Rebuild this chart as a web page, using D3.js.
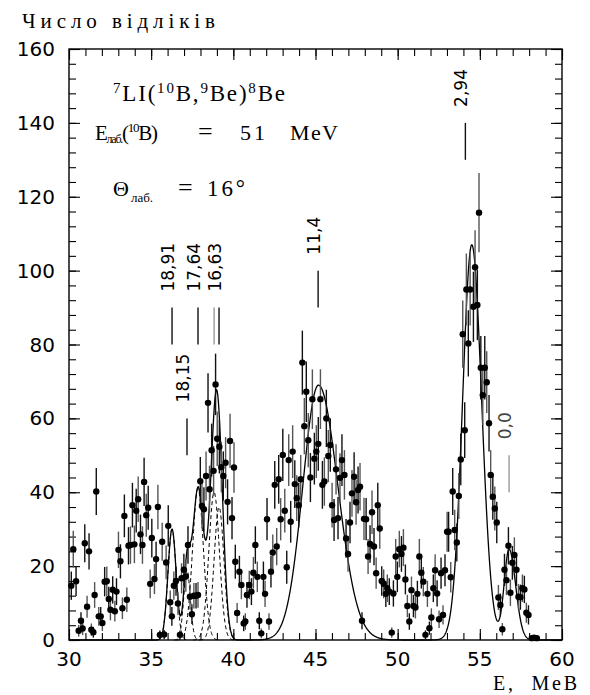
<!DOCTYPE html>
<html><head><meta charset="utf-8">
<script src="https://cdn.jsdelivr.net/npm/d3@7/dist/d3.min.js"></script>
<style>body{margin:0;background:#fff}svg{display:block}</style>
</head><body>
<svg id="chart" width="590" height="695"></svg>
<script>
// ---------- data ----------
const energy = [30.14,30.26,30.43,30.59,30.73,30.83,30.96,31.10,31.22,31.36,31.48,31.56,31.66,31.81,31.93,32.03,32.17,32.30,32.42,32.52,32.66,32.79,32.89,33.01,33.13,33.25,33.37,33.52,33.62,33.74,33.86,33.98,34.09,34.21,34.35,34.47,34.57,34.70,34.82,34.94,35.04,35.20,35.30,35.41,35.53,35.67,35.79,35.91,36.04,36.16,36.26,36.38,36.51,36.63,36.75,36.85,36.99,37.11,37.24,37.36,37.48,37.60,37.73,37.85,37.99,38.09,38.21,38.34,38.46,38.55,38.68,38.80,38.92,39.02,39.15,39.27,39.39,39.53,39.65,39.80,39.92,40.04,40.12,40.23,40.37,40.49,40.63,40.73,40.83,40.97,41.10,41.22,41.34,41.46,41.58,41.70,41.83,41.93,42.05,42.17,42.29,42.40,42.52,42.64,42.76,42.88,43.01,43.13,43.25,43.37,43.49,43.61,43.74,43.86,43.98,44.10,44.20,44.32,44.44,44.56,44.69,44.81,44.93,45.05,45.17,45.30,45.42,45.54,45.66,45.78,45.90,46.01,46.13,46.25,46.37,46.49,46.61,46.76,46.86,46.98,47.10,47.22,47.35,47.47,47.59,47.71,47.83,47.95,48.08,48.20,48.32,48.44,48.56,48.69,48.79,48.91,49.03,49.15,49.28,49.37,49.49,49.64,49.74,49.88,49.98,50.10,50.23,50.35,50.47,50.59,50.71,50.84,50.96,51.08,51.20,51.32,51.44,51.56,51.69,51.81,51.93,52.05,52.17,52.28,52.40,52.52,52.64,52.76,52.88,53.01,53.10,53.23,53.35,53.47,53.60,53.72,53.84,53.96,54.08,54.18,54.30,54.41,54.61,54.71,54.85,54.95,55.06,55.18,55.30,55.42,55.56,55.66,55.79,55.91,56.03,56.13,56.25,56.37,56.50,56.62,56.74,56.86,56.98,57.10,57.23,57.35,57.47,57.59,57.71,57.83,57.96,58.16,58.30,58.47];
const counts = [14.7,24.6,15.9,2.5,5.2,3.1,26.2,9.0,24.0,2.8,2.1,12.2,40.2,6.4,6.4,4.6,15.8,15.9,11.1,8.2,13.6,7.8,13.1,24.4,21.3,8.6,33.6,10.9,25.5,25.7,36.5,25.9,35.0,38.1,28.6,25.7,42.8,33.8,35.8,15.2,27.6,16.5,21.9,36.0,1.4,26.6,1.5,21.0,30.9,10.2,6.4,14.7,16.0,9.9,1.4,16.7,19.0,17.2,25.7,11.7,7.0,12.0,12.0,12.2,43.0,36.3,35.4,44.4,64.2,40.8,51.4,45.8,69.2,54.5,52.3,46.8,44.4,48.0,37.4,53.9,33.0,46.7,21.2,7.3,18.5,14.9,4.5,5.0,12.2,14.9,13.1,18.2,25.7,17.1,5.2,1.8,17.1,12.5,32.7,5.0,18.5,23.7,42.0,25.3,43.5,32.7,50.1,35.0,19.7,48.7,32.0,51.0,42.2,38.4,36.5,43.5,75.1,57.9,67.2,54.1,44.0,65.2,49.1,51.0,53.1,65.2,42.0,42.9,60.0,49.8,52.8,36.5,32.5,46.2,33.0,43.9,48.7,44.7,27.5,23.3,31.8,39.7,44.2,37.3,40.6,41.5,5.2,32.8,32.7,22.6,26.0,34.6,25.3,18.1,36.5,30.2,16.0,15.2,12.5,14.0,13.1,2.0,12.6,22.6,17.1,24.6,23.3,25.0,16.4,9.2,5.0,13.5,9.2,8.8,12.5,22.6,18.2,15.8,1.4,12.5,3.2,6.1,14.0,18.9,12.6,5.6,18.1,6.8,18.9,29.3,29.3,17.0,40.2,29.8,26.4,39.0,48.9,82.8,56.8,94.9,80.3,94.9,90.2,100.9,90.7,115.7,73.7,66.3,73.7,69.8,58.7,44.7,38.8,35.6,31.8,11.5,9.5,2.9,19.0,16.2,25.5,12.8,20.9,23.0,19.0,11.7,11.6,14.0,13.7,7.4,6.8,0.5,0.6,0.5];

// fitted peaks (solid = sum, dashed = single components)
const peakCenter = [36.27, 37.18, 37.85, 38.83, 39.13, 45.18, 54.51, 56.78];
const peakHeight = [30, 19, 41, 40, 36, 69, 107, 24.5];
const peakSigmaL = [0.25, 0.2, 0.33, 0.32, 0.30, 0.95, 0.56, 0.30];
const peakSigmaR = [0.25, 0.2, 0.33, 0.32, 0.30, 1.18, 0.60, 0.40];
const dashedPeaks = [0, 1, 2, 3, 4];

// level markers
const stateLabel  = ["18,91", "18,15", "17,64", "", "16,63", "11,4", "2,94", "0,0"];
const stateEnergy = [36.27, 37.18, 37.85, 38.83, 39.13, 45.16, 54.12, 56.78];
const stateLow    = [80, 50, 80, 80, 80, 90, 130, 40];
const stateHigh   = [90, 60, 90, 90, 90, 100, 140, 50];
const stateColor  = ["#111", "#111", "#111", "#999", "#111", "#111", "#111", "#999"];

const xTickLabels = [30, 35, 40, 45, 50, 55, 60];
const yTickLabels = [0, 20, 40, 60, 80, 100, 120, 140, 160];

// ---------- drawing ----------
const svg = d3.select("#chart");
const L = 69, R = 562, T = 49, B = 640;
const x = d3.scaleLinear().domain([30, 60]).range([L, R]);
const y = d3.scaleLinear().domain([0, 160]).range([B, T]);

function peakValue(i, e) {
  const s = e < peakCenter[i] ? peakSigmaL[i] : peakSigmaR[i];
  const d = (e - peakCenter[i]) / s;
  return peakHeight[i] * Math.exp(-0.5 * d * d);
}

// ticks on all four sides (inward)
const minorX = d3.range(30, 61, 1), minorY = d3.range(0, 161, 4);
const majorX = minorX.filter(v => v % 5 === 0), majorY = minorY.filter(v => v % 20 === 0);
function addAxis(gen, tr, vals, len) {
  const g = svg.append("g").attr("transform", tr)
    .call(gen.tickValues(vals).tickSize(-len).tickFormat(""));
  g.select(".domain").remove();
  g.selectAll("line").attr("stroke", "#000").attr("stroke-width", 1.1);
}
addAxis(d3.axisBottom(x), `translate(0,${B})`, minorX, 7);
addAxis(d3.axisBottom(x), `translate(0,${B})`, majorX, 11);
addAxis(d3.axisTop(x), `translate(0,${T})`, minorX, 7);
addAxis(d3.axisTop(x), `translate(0,${T})`, majorX, 11);
addAxis(d3.axisLeft(y), `translate(${L},0)`, minorY, 7);
addAxis(d3.axisLeft(y), `translate(${L},0)`, majorY, 11);
addAxis(d3.axisRight(y), `translate(${R},0)`, minorY, 7);
addAxis(d3.axisRight(y), `translate(${R},0)`, majorY, 11);

svg.append("rect").attr("x", L).attr("y", T).attr("width", R - L).attr("height", B - T)
  .attr("fill", "none").attr("stroke", "#000").attr("stroke-width", 1.4);

// tick labels
svg.append("g").selectAll("text").data(xTickLabels).join("text")
  .attr("x", d => x(d)).attr("y", 666).attr("text-anchor", "middle")
  .attr("font-family", "DejaVu Sans").attr("font-size", 20).text(d => d);
svg.append("g").selectAll("text").data(yTickLabels).join("text")
  .attr("x", 55).attr("y", d => y(d) + 7).attr("text-anchor", "end")
  .attr("font-family", "DejaVu Sans").attr("font-size", 20).text(d => d);

// spread text to a target width with letter spacing (keeps glyph stroke weight)
function fitSpacing(sel, target) {
  const w = sel.node().getComputedTextLength();
  const n = sel.text().length;
  if (n > 1) sel.attr("letter-spacing", (target - w) / (n - 1));
}
const serif = "Liberation Serif";

// axis titles
const yt = svg.append("text").attr("x", 22).attr("y", 28)
  .attr("font-family", serif).attr("font-size", 21).text("Число відліків");
fitSpacing(yt, 193);
const xt = svg.append("text").attr("x", 493).attr("y", 690)
  .attr("font-family", serif).attr("font-size", 20).attr("xml:space", "preserve").text("E,  MeB");
fitSpacing(xt, 84);

// annotation lines
const t1 = svg.append("text").attr("x", 113).attr("y", 101).attr("font-family", serif).attr("font-size", 23);
[["7", true], ["LI(", false], ["10", true], ["B,", false], ["9", true], ["Be)", false], ["8", true], ["Be", false]]
  .forEach(([s, sup], k) => t1.append("tspan").attr("font-size", sup ? 15 : 23)
    .attr("dy", sup ? (k === 0 ? -8 : -8) : 8).text(s));
fitSpacing(t1, 172);

const t2 = svg.append("text").attr("x", 95).attr("y", 140).attr("font-family", serif).attr("font-size", 21);
t2.append("tspan").text("E");
t2.append("tspan").attr("font-size", 12).attr("dy", 3).text("лаб.");
t2.append("tspan").attr("dy", -3).text("(");
t2.append("tspan").attr("font-size", 13).attr("dy", -8).text("10");
t2.append("tspan").attr("dy", 8).text("B)");
fitSpacing(t2, 63);
svg.append("text").attr("x", 198).attr("y", 140).attr("font-family", serif).attr("font-size", 26).text("=");
const n2 = svg.append("text").attr("x", 240).attr("y", 140).attr("font-family", serif).attr("font-size", 22).text("51");
fitSpacing(n2, 25);
const u2 = svg.append("text").attr("x", 290).attr("y", 140).attr("font-family", serif).attr("font-size", 22).text("MeV");
fitSpacing(u2, 48);

const t3 = svg.append("text").attr("x", 113).attr("y", 196).attr("font-family", serif).attr("font-size", 22);
t3.append("tspan").text("Θ");
t3.append("tspan").attr("font-size", 13).attr("dy", 6).attr("dx", 2).text("лаб.");
svg.append("text").attr("x", 178).attr("y", 196).attr("font-family", serif).attr("font-size", 26).text("=");
const n3 = svg.append("text").attr("x", 207).attr("y", 196).attr("font-family", serif).attr("font-size", 23).text("16°");
fitSpacing(n3, 38);

// level markers
const mk = svg.append("g");
stateEnergy.forEach((e, i) => {
  mk.append("line").attr("x1", x(e)).attr("x2", x(e)).attr("y1", y(stateLow[i])).attr("y2", y(stateHigh[i]))
    .attr("stroke", stateColor[i]).attr("stroke-width", 1.4);
  if (stateLabel[i]) {
    const bx = x(e) + 2, by = y(stateHigh[i]) - 16;
    mk.append("text").attr("transform", `translate(${bx},${by}) rotate(-90)`)
      .attr("font-family", "DejaVu Sans").attr("font-size", 17)
      .attr("fill", i === 7 ? "#444" : "#000").text(stateLabel[i]);
  }
});

// fit curves
const grid = d3.range(30, 60.001, 0.02);
const total = grid.map(e => [e, d3.sum(peakCenter, (c, i) => peakValue(i, e))]);
const line = d3.line().x(d => x(d[0])).y(d => y(d[1]));
dashedPeaks.forEach(i => {
  const pts = grid.filter(e => Math.abs(e - peakCenter[i]) < 4 * Math.max(peakSigmaL[i], peakSigmaR[i]))
    .map(e => [e, peakValue(i, e)]);
  svg.append("path").attr("d", line(pts)).attr("fill", "none").attr("stroke", "#000")
    .attr("stroke-width", 1).attr("stroke-dasharray", "4,3");
});
svg.append("path").attr("d", line(total)).attr("fill", "none").attr("stroke", "#000").attr("stroke-width", 1.3);

// data points with Poisson error bars
const pts = energy.map((e, i) => ({ e, c: counts[i] }));
const dp = svg.append("g");
dp.selectAll("line").data(pts).join("line")
  .attr("x1", d => x(d.e)).attr("x2", d => x(d.e))
  .attr("y1", d => y(Math.max(0, d.c - Math.sqrt(d.c)))).attr("y2", d => y(d.c + Math.sqrt(d.c)))
  .attr("stroke", (d, i) => i % 2 ? "#555" : "#111").attr("stroke-width", 1.4);
dp.selectAll("circle").data(pts).join("circle")
  .attr("cx", d => x(d.e)).attr("cy", d => y(d.c)).attr("r", 3.2).attr("fill", "#000");
</script>
</body></html>
